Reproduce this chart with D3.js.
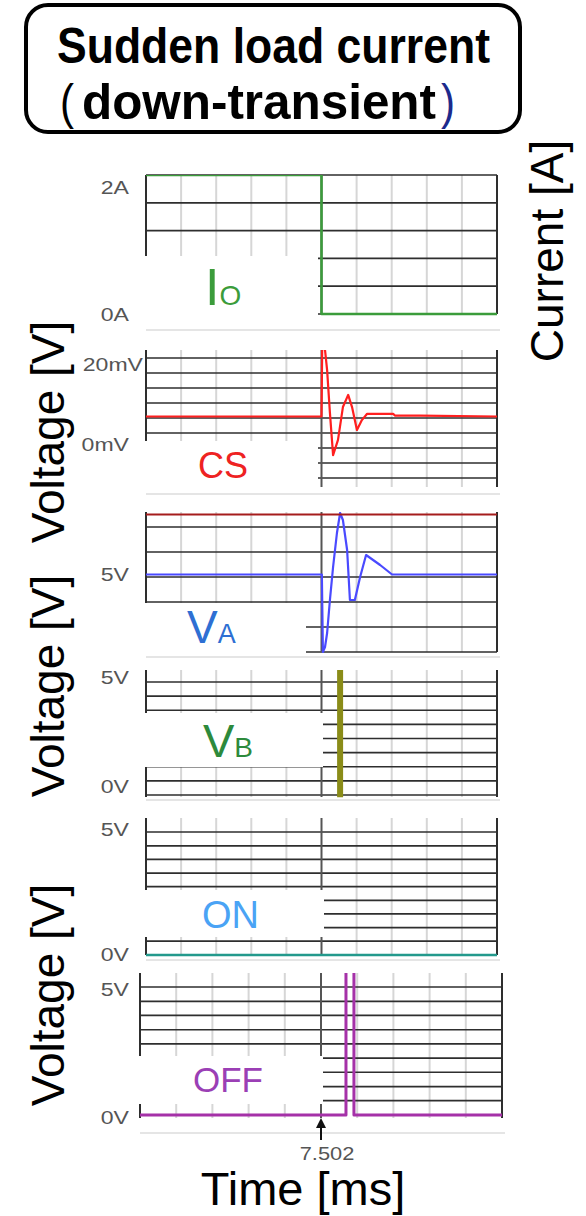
<!DOCTYPE html>
<html>
<head>
<meta charset="utf-8">
<script src="https://cdn.jsdelivr.net/npm/d3@7"></script>
<style>
body { margin: 0; background: #fff; }
text { font-family: "Liberation Sans", Arial, sans-serif; }
</style>
</head>
<body>
<script>
// time axis in scope divisions, 7.502 ms sits on division 5
var divisions = [0, 1, 2, 3, 4, 5, 6, 7, 8, 9, 10]
var markerDiv = 5
var markerLabel = "7.502"

// Io load current [A]
var ioTime = [0, 5, 5, 10]
var ioAmp = [2, 2, 0, 0]
var ioGrid = [2, 1.6, 1.2, 0.8, 0.4, 0]
var ioTickValues = [2, 0]
var ioTickLabels = ["2A", "0A"]

// CS [mV]
var csTime = [0, 5.0, 5.02, 5.1, 5.16, 5.24, 5.33, 5.47, 5.61, 5.76, 5.87, 6.01, 6.15, 6.3, 7.04, 7.09, 7.81, 10]
var csMilliVolt = [7, 7, 22.5, 21.8, 17.3, 7.8, -1.6, 1.8, 9.1, 11.8, 9.1, 4.0, 6.2, 7.6, 7.6, 7.2, 7.2, 7]
var csGrid = [20, 16.67, 13.33, 10, 6.67, 3.33, 0, -3.33, -6.67]
var csTickValues = [20, 0]
var csTickLabels = ["20mV", "0mV"]

// VA [V]
var vaTime = [0, 5.01, 5.04, 5.1, 5.16, 5.24, 5.33, 5.44, 5.53, 5.61, 5.73, 5.81, 5.95, 6.1, 6.27, 6.67, 7.01, 10]
var vaVolt = [5.1, 5.1, 2.0, 2.2, 2.76, 4.08, 5.4, 6.76, 7.56, 7.28, 6.08, 4.08, 4.08, 5.0, 5.88, 5.48, 5.1, 5.1]
var vaSupply = 7.5
var vaGrid = [7, 6, 5, 4, 3, 2]
var vaTickValues = [5]
var vaTickLabels = ["5V"]

// VB [V]
var vbTime = [5.53, 5.53]
var vbVolt = [-0.1, 5.6]
var vbGrid = [5, 4.375, 3.75, 3.125, 2.5, 1.875, 1.25, 0.625, 0]
var vbTickValues = [5, 0]
var vbTickLabels = ["5V", "0V"]

// ON gate [V]
var onTime = [0, 10]
var onVolt = [0, 0]
var onGrid = [5, 4.44, 3.89, 3.33, 2.78, 2.22, 1.67, 1.11, 0.56]
var onTickValues = [5, 0]
var onTickLabels = ["5V", "0V"]

// OFF gate [V]
var offTime = [0, 5.69, 5.69, 5.91, 5.91, 10]
var offVolt = [0, 0, 6, 6, 0, 0]
var offGrid = [5, 4.44, 3.89, 3.33, 2.78, 2.22, 1.67, 1.11, 0.56]
var offTickValues = [5, 0]
var offTickLabels = ["5V", "0V"]

WIDTH = 586
HEIGHT = 1216

var svg = d3.select("body").append("svg")
  .attr("width", WIDTH).attr("height", HEIGHT)

var xMain = d3.scaleLinear().domain([0, 10]).range([146, 497])
var xOff = d3.scaleLinear().domain([0, 10]).range([140, 502])

var panels = [
  {x: xMain, domain: [0, 2], range: [314, 175], top: 175, bottom: 314, sep: 330,
   box: [256, 326, 318], grid: ioGrid, ticks: ioTickValues, labels: ioTickLabels, tickDy: [13, 1],
   time: ioTime, vals: ioAmp, color: "#3b9c3b", width: 2.5},
  {x: xMain, domain: [0, 20], range: [448, 358], top: 350, bottom: 487, sep: 494,
   box: [441, 491, 318], grid: csGrid, ticks: csTickValues, labels: csTickLabels, tickDy: [7, -3],
   time: csTime, vals: csMilliVolt, color: "#ff1f1f", width: 2.2},
  {x: xMain, domain: [2, 7], range: [652, 527], top: 512, bottom: 652, sep: 657,
   box: [603, 656, 306], grid: vaGrid, ticks: vaTickValues, labels: vaTickLabels, tickDy: [-2],
   time: vaTime, vals: vaVolt, color: "#4a4aff", width: 2.2},
  {x: xMain, domain: [0, 5], range: [795, 682], top: 670, bottom: 797, sep: 800,
   box: [713, 767, 323], grid: vbGrid, ticks: vbTickValues, labels: vbTickLabels, tickDy: [-4, -8],
   time: vbTime, vals: vbVolt, color: "#8a8c18", width: 6},
  {x: xMain, domain: [0, 5], range: [955, 832], top: 818, bottom: 955, sep: 960,
   box: [890, 937, 324], grid: onGrid, ticks: onTickValues, labels: onTickLabels, tickDy: [-2, 0],
   time: onTime, vals: onVolt, color: "#23998c", width: 2.5},
  {x: xOff, domain: [0, 5], range: [1115, 987], top: 973, bottom: 1118, sep: 1133,
   box: [1056, 1104, 323], grid: offGrid, ticks: offTickValues, labels: offTickLabels, tickDy: [3, 3],
   time: offTime, vals: offVolt, color: "#a531a8", width: 3}
]

// the scope font is drawn wider than Liberation Sans
function widen(sel, factor)
{
  sel.each(function()
  {
    var w = this.getComputedTextLength()
    d3.select(this).attr("textLength", w * factor).attr("lengthAdjust", "spacingAndGlyphs")
  })
}

function drawPanel(p, i)
{
  var xs = p.x
  var y = d3.scaleLinear().domain(p.domain).range(p.range)
  var g = svg.append("g")

  g.append("clipPath").attr("id", "clip" + i)
    .append("rect").attr("x", xs(0) - 5).attr("y", p.top)
    .attr("width", xs(10) - xs(0) + 10).attr("height", p.bottom - p.top + 10)

  g.selectAll(".vgrid").data(divisions.filter(function(d) { return d % 5 !== 0 }))
    .enter().append("line")
    .attr("x1", function(d) { return xs(d) }).attr("x2", function(d) { return xs(d) })
    .attr("y1", p.top).attr("y2", p.bottom)
    .attr("stroke", "#d6d6d6").attr("stroke-width", 2)

  g.selectAll(".hgrid").data(p.grid).enter().append("line")
    .attr("x1", xs(0)).attr("x2", xs(10))
    .attr("y1", function(d) { return y(d) }).attr("y2", function(d) { return y(d) })
    .attr("stroke", "#2e2e2e").attr("stroke-width", 1.7)

  g.selectAll(".frame").data([0, 5, 10]).enter().append("line")
    .attr("x1", function(d) { return xs(d) }).attr("x2", function(d) { return xs(d) })
    .attr("y1", p.top).attr("y2", p.bottom)
    .attr("stroke", function(d) { return d === 5 ? "#555" : "#2e2e2e" })
    .attr("stroke-width", 2)

  // white label area, as in the scope screenshot
  g.append("rect").attr("x", xs(0) - 3).attr("y", p.box[0])
    .attr("width", p.box[2] - xs(0) + 3).attr("height", p.box[1] - p.box[0])
    .attr("fill", "#fff")

  svg.append("line").attr("x1", xs(0)).attr("x2", xs(10) + 3)
    .attr("y1", p.sep).attr("y2", p.sep)
    .attr("stroke", "#dcdcdc").attr("stroke-width", 1.5)

  var ticks = g.selectAll(".tick").data(p.ticks).enter().append("text")
    .attr("x", function(d, j) { return p.labels[j].length > 2 && d !== 0 ? 143 : 129 })
    .attr("y", function(d, j) { return y(d) + p.tickDy[j] })
    .attr("dy", "0.35em").attr("text-anchor", "end")
    .attr("font-size", 18).attr("fill", "#555")
    .text(function(d, j) { return p.labels[j] })
  widen(ticks, 1.28)

  var line = d3.line()
    .x(function(d, j) { return xs(p.time[j]) })
    .y(function(d) { return y(d) })
  g.append("path").datum(p.vals)
    .attr("d", line).attr("fill", "none")
    .attr("stroke", p.color).attr("stroke-width", p.width)
    .attr("stroke-linejoin", "round")
    .attr("clip-path", "url(#clip" + i + ")")
  return y
}

var yScales = panels.map(drawPanel)

// VA supply rail
svg.append("line").attr("x1", xMain(0)).attr("x2", xMain(10))
  .attr("y1", yScales[2](vaSupply)).attr("y2", yScales[2](vaSupply))
  .attr("stroke", "#a51c1c").attr("stroke-width", 2)

// trace names
function nameLabel(x, y, color, big, bigSize, small, smallSize)
{
  var t = svg.append("text").attr("x", x).attr("y", y).attr("fill", color)
  t.append("tspan").attr("font-size", bigSize).text(big)
  if (small) t.append("tspan").attr("font-size", smallSize).text(small)
}
nameLabel(205, 305, "#3b9c3b", "I", 52, "O", 28)
nameLabel(198, 478, "#ee2222", "CS", 36)
nameLabel(187, 643, "#2e6fd3", "V", 46, "A", 27)
nameLabel(203, 757, "#2d8a3c", "V", 47, "B", 28)
nameLabel(202, 928, "#4aa3f5", "ON", 38)
nameLabel(193, 1092, "#9b3fb5", "OFF", 35)

// time marker
var mx = xOff(markerDiv)
svg.append("line").attr("x1", mx).attr("x2", mx).attr("y1", 1126).attr("y2", 1140)
  .attr("stroke", "#111").attr("stroke-width", 2)
svg.append("path").attr("d", "M" + mx + ",1118 L" + (mx - 5) + ",1128 L" + (mx + 5) + ",1128 Z")
  .attr("fill", "#111")
var mark = svg.append("text").attr("x", mx + 6).attr("y", 1160).attr("text-anchor", "middle")
  .attr("font-size", 19).attr("fill", "#555").text(markerLabel)
widen(mark, 1.15)

svg.append("text").attr("x", 303).attr("y", 1205).attr("text-anchor", "middle")
  .attr("font-size", 47).attr("fill", "#000").text("Time [ms]")

// axis titles
var voltageCenters = [432, 686, 995]
voltageCenters.forEach(function(c)
{
  svg.append("text").attr("transform", "translate(64," + c + ")rotate(-90)")
    .attr("text-anchor", "middle").attr("font-size", 46).attr("fill", "#000")
    .text("Voltage [V]")
})
svg.append("text").attr("transform", "translate(563,251)rotate(-90)")
  .attr("text-anchor", "middle").attr("font-size", 46).attr("fill", "#000")
  .text("Current [A]")

// title box, letters are drawn tall and narrow
svg.append("rect").attr("x", 26).attr("y", 5).attr("width", 494).attr("height", 127)
  .attr("rx", 22).attr("fill", "#fff").attr("stroke", "#000").attr("stroke-width", 4)
function titleLine(text, x, base, len, color, weight)
{
  return svg.append("text")
    .attr("transform", "translate(0," + base + ")scale(1,1.2)")
    .attr("x", x).attr("y", 0).attr("font-weight", weight).attr("font-size", 42)
    .attr("fill", color).attr("textLength", len).attr("lengthAdjust", "spacingAndGlyphs")
    .text(text)
}
titleLine("Sudden load current", 57, 63, 433, "#000", "bold")
titleLine("(", 60, 119, 14, "#000", "normal")
titleLine("down-transient", 82, 119, 354, "#000", "bold")
titleLine(")", 441, 119, 14, "#1c2a8c", "normal")
</script>
</body>
</html>
